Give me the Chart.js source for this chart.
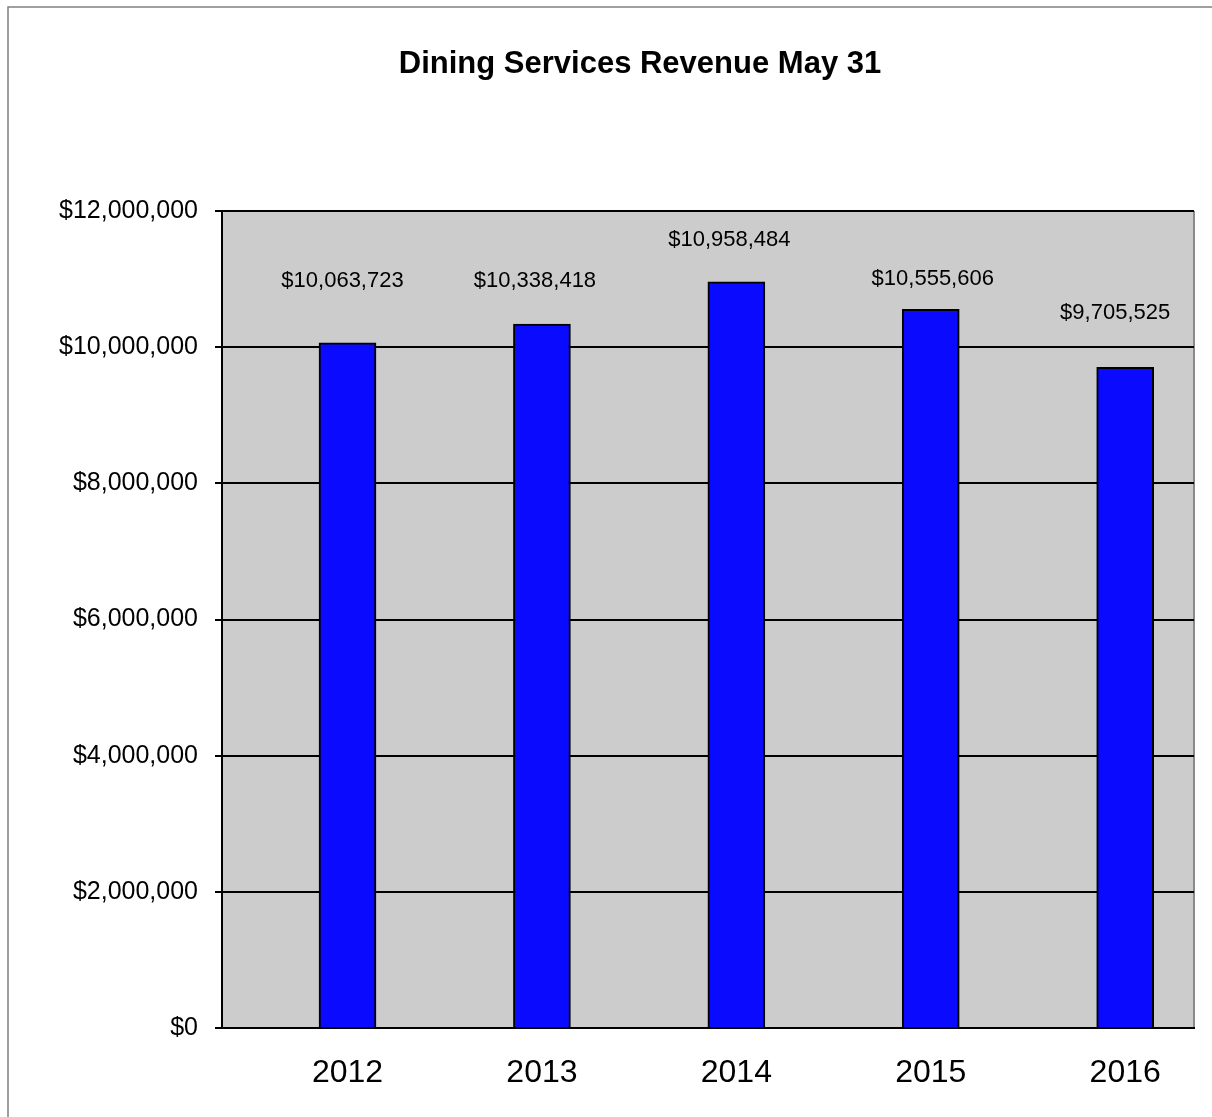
<!DOCTYPE html>
<html>
<head>
<meta charset="utf-8">
<title>Dining Services Revenue May 31</title>
<script src="https://cdn.jsdelivr.net/npm/chart.js@4"></script>
<style>
  html, body { margin: 0; padding: 0; background: #fff; overflow: hidden; }
  canvas { display: block; }
</style>
</head>
<body>
<canvas id="revenueChart" width="1212" height="1117"></canvas>
<script>
// fiscal years and revenue as of May 31
const years = ['2012', '2013', '2014', '2015', '2016'];
const revenue = [10063723, 10338418, 10958484, 10555606, 9705525];
const yTicks = [0, 2000000, 4000000, 6000000, 8000000, 10000000, 12000000];

const FONT = "Arial, 'Liberation Sans', sans-serif";

function money(v) {
    return '$' + Math.round(v).toLocaleString('en-US');
}

// frame, title and grey plot area
const backdrop = {
    id: 'backdrop',
    beforeDraw(chart) {
        const ctx = chart.ctx;
        const a = chart.chartArea;
        ctx.save();
        ctx.fillStyle = '#ffffff';
        ctx.fillRect(0, 0, chart.width, chart.height);
        ctx.strokeStyle = '#808080';
        ctx.lineWidth = 1.5;
        ctx.beginPath();
        ctx.moveTo(8, chart.height);
        ctx.lineTo(8, 7);
        ctx.lineTo(chart.width, 7);
        ctx.stroke();
        ctx.fillStyle = '#cccccc';
        ctx.fillRect(a.left, a.top, a.right - a.left, a.bottom - a.top);
        ctx.strokeStyle = '#8a8a8a';
        ctx.lineWidth = 2;
        ctx.beginPath();
        ctx.moveTo(a.right, a.top);
        ctx.lineTo(a.right, a.bottom);
        ctx.stroke();
        ctx.fillStyle = '#000';
        ctx.font = 'bold 31px ' + FONT;
        ctx.textAlign = 'center';
        ctx.textBaseline = 'alphabetic';
        ctx.fillText('Dining Services Revenue May 31', 640, 73);
        ctx.restore();
    }
};

// value labels over each bar
const valueLabels = {
    id: 'valueLabels',
    afterDatasetsDraw(chart, args, opts) {
        const ctx = chart.ctx;
        const bars = chart.getDatasetMeta(0).data;
        ctx.save();
        ctx.fillStyle = '#000';
        ctx.font = '22px ' + FONT;
        ctx.textAlign = 'center';
        ctx.textBaseline = 'alphabetic';
        bars.forEach((bar, i) => {
            ctx.fillText(money(revenue[i]), bar.x + opts.shift[i], bar.y - opts.lift[i]);
        });
        ctx.restore();
    }
};

new Chart(document.getElementById('revenueChart'), {
    type: 'bar',
    data: {
        datasets: [{
            data: revenue.map((v, i) => ({ x: i, y: v })),
            backgroundColor: '#0a0aff',
            borderColor: '#000',
            borderWidth: 2,
            barThickness: 57
        }]
    },
    options: {
        responsive: false,
        animation: false,
        layout: { padding: { left: 0, right: 18, top: 211, bottom: 0 } },
        plugins: {
            legend: { display: false },
            title: { display: false },
            tooltip: { enabled: false },
            valueLabels: {
                shift: [-5, -7, -7, 2, -10],
                lift: [56, 37, 36, 24, 48]
            }
        },
        scales: {
            x: {
                type: 'linear',
                offset: false,
                min: -0.6456,
                max: 4.354,
                afterBuildTicks: (scale) => { scale.ticks = years.map((y, i) => ({ value: i })); },
                afterFit: (scale) => { scale.height = 89; },
                grid: { display: false, drawTicks: false },
                border: { display: true, color: '#000', width: 2 },
                ticks: {
                    padding: 26,
                    color: '#000',
                    font: { family: FONT, size: 32 },
                    callback: (v) => years[v]
                }
            },
            y: {
                min: 0,
                max: 12000000,
                afterBuildTicks: (scale) => { scale.ticks = yTicks.map(v => ({ value: v })); },
                afterFit: (scale) => { scale.width = 222; },
                grid: { color: '#000', lineWidth: 2, tickLength: 7, drawTicks: true },
                border: { display: true, color: '#000', width: 2 },
                ticks: {
                    padding: 17,
                    color: '#000',
                    font: { family: FONT, size: 25 },
                    callback: (v) => money(v)
                }
            }
        }
    },
    plugins: [backdrop, valueLabels]
});
</script>
</body>
</html>
